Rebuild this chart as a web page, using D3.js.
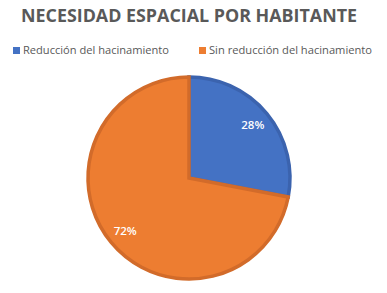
<!DOCTYPE html>
<html>
<head>
<meta charset="utf-8">
<script src="https://cdn.jsdelivr.net/npm/d3@7"></script>
<style>
  body { margin: 0; background: #fff; }
  svg { display: block; font-family: "Open Sans", "Liberation Sans", sans-serif; }
</style>
</head>
<body>
<div id="chart"></div>
<script>
const categories = ["Reducción del hacinamiento", "Sin reducción del hacinamiento"];
const values = [28, 72];
const labels = ["28%", "72%"];
const colors = ["#4472C4", "#ED7D31"];
const strokes = ["#3B63AE", "#D26B2A"];

const width = 387, height = 293;
const cx = 189, cy = 178, radius = 101;

const svg = d3.select("#chart").append("svg")
    .attr("width", width)
    .attr("height", height);

// title
svg.append("text")
    .attr("x", 189)
    .attr("y", 22)
    .attr("text-anchor", "middle")
    .attr("fill", "#595959")
    .attr("font-size", 17)
    .attr("font-weight", "bold")
    .attr("textLength", 336)
    .attr("lengthAdjust", "spacingAndGlyphs")
    .text("NECESIDAD ESPACIAL POR HABITANTE");

// legend
const legendX = [13, 199];
const legendW = [146, 163];
const legend = svg.append("g")
    .selectAll("g")
    .data(categories)
    .join("g")
    .attr("transform", (d, i) => `translate(${legendX[i]},47)`);

legend.append("rect")
    .attr("width", 7)
    .attr("height", 7)
    .attr("fill", (d, i) => colors[i]);

legend.append("text")
    .attr("x", 10)
    .attr("y", 7)
    .attr("fill", "#595959")
    .attr("font-size", 11)
    .attr("textLength", (d, i) => legendW[i])
    .attr("lengthAdjust", "spacingAndGlyphs")
    .text(d => d);

// pie
const pie = d3.pie().sort(null)(values);
const arc = d3.arc().innerRadius(0).outerRadius(radius);

const g = svg.append("g").attr("transform", `translate(${cx},${cy})`);

g.selectAll("path")
    .data(pie)
    .join("path")
    .attr("d", arc)
    .attr("fill", (d, i) => colors[i])
    .attr("stroke", (d, i) => strokes[i])
    .attr("stroke-width", 3.5)
    .attr("stroke-linejoin", "miter");

const labelArc = d3.arc().innerRadius(radius * 0.82).outerRadius(radius * 0.82);
g.selectAll("text")
    .data(pie)
    .join("text")
    .attr("transform", d => {
        const [x, y] = labelArc.centroid(d);
        return `translate(${x},${y})`;
    })
    .attr("text-anchor", "middle")
    .attr("dy", "0.35em")
    .attr("fill", "#fff")
    .attr("font-size", 11.5)
    .attr("font-weight", 600)
    .text((d, i) => labels[i]);
</script>
</body>
</html>
